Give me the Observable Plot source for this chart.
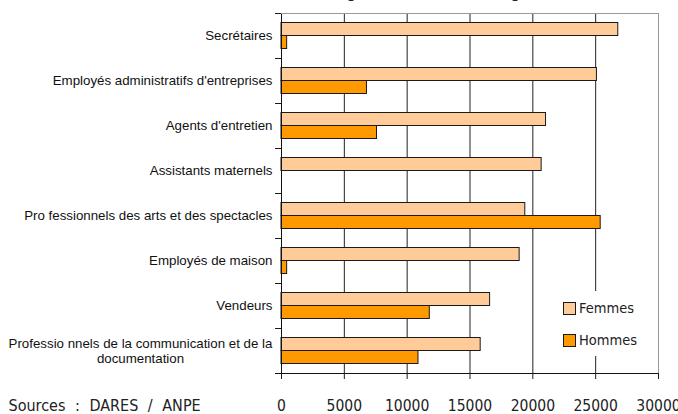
<!DOCTYPE html>
<html><head><meta charset="utf-8">
<script src="https://cdn.jsdelivr.net/npm/d3@7"></script>
<script src="https://cdn.jsdelivr.net/npm/@observablehq/plot@0.6"></script>
<style>
body{margin:0;background:#fff;}
#wrap{position:relative;width:678px;height:414px;overflow:hidden;}
.legend{position:absolute;left:553px;top:291px;width:96px;height:65px;background:#fff;
  font-family:"DejaVu Sans Condensed","DejaVu Sans",sans-serif;font-stretch:condensed;font-size:14.5px;color:#222;}
.sw{position:absolute;left:10px;width:11px;height:11px;border:1px solid #1a1a1a;}
.lt{position:absolute;left:26px;line-height:16px;white-space:nowrap;}
</style></head><body><div id="wrap"></div>
<script>
const categories = [
  "Secrétaires",
  "Employés administratifs d'entreprises",
  "Agents d'entretien",
  "Assistants maternels",
  "Pro fessionnels des arts et des spectacles",
  "Employés de maison",
  "Vendeurs",
  "Professio nnels de la communication et de la documentation"
];
const wrappedLabel = "Professio nnels de la communication et de la\ndocumentation";
const series = ["Femmes", "Hommes"];
const colors = ["#FFCC99", "#FF9900"];
const femmes = [26800, 25100, 21050, 20700, 19400, 18950, 16600, 15850];
const hommes = [450, 6800, 7600, 0, 25400, 450, 11800, 10900];
const xTicks = [0, 5000, 10000, 15000, 20000, 25000, 30000];
const title = "(Les demandes enregistrées, toutes catégories confondues)";
const source = "Sources : DARES / ANPE";

const rowsF = categories.map((c, i) => ({category: c, sexe: series[0], value: femmes[i]}));
const rowsH = categories.map((c, i) => ({category: c, sexe: series[1], value: hommes[i]})).filter(d => d.value > 0);
const lastCat = categories[categories.length - 1];
const condensed = "'DejaVu Sans Condensed', 'DejaVu Sans', sans-serif";

const chart = Plot.plot({
  width: 678,
  height: 414,
  marginLeft: 281,
  marginRight: 20,
  marginTop: 13,
  marginBottom: 41,
  style: {background: "#fff", color: "#1a1a1a", fontStretch: "condensed"},
  x: {domain: [0, 30000], axis: null, label: null},
  y: {domain: categories, padding: 0, axis: null, label: null},
  color: {domain: series, range: colors},
  marks: [
    Plot.ruleX(xTicks.slice(1, -1), {stroke: "#222", strokeWidth: 1}),
    Plot.barX(rowsF, {x: "value", y: "category", fill: "sexe", stroke: "#1a1a1a", strokeWidth: 1, insetTop: 9.5, insetBottom: 22.5}),
    Plot.barX(rowsH, {x: "value", y: "category", fill: "sexe", stroke: "#1a1a1a", strokeWidth: 1, insetTop: 22.5, insetBottom: 9.5}),
    Plot.ruleX([0], {stroke: "#111"}),
    Plot.ruleX([30000], {stroke: "#999"}),
    Plot.frame({anchor: "top", stroke: "#999"}),
    Plot.frame({anchor: "bottom", stroke: "#111", insetLeft: -6}),
    Plot.axisX({ticks: xTicks, tickSize: 6, tickPadding: 20, tickFormat: d => String(d), label: null,
      fontSize: 15.5, fontFamily: condensed, fill: "#222"}),
    Plot.axisY({tickSize: 6, tickFormat: () => "", dy: -22.5, label: null}),
    Plot.axisY({tickSize: 0, tickPadding: 9, tickFormat: d => d === lastCat ? "" : d, label: null,
      fontSize: 13.3, fontFamily: "'Liberation Sans', Arial, sans-serif", fill: "#111", fontStretch: "normal"}),
    Plot.text([lastCat], {y: d => d, text: () => wrappedLabel, frameAnchor: "left", textAnchor: "middle",
      dx: -141, lineHeight: 1.1, fontSize: 13.3, fontFamily: "'Liberation Sans', Arial, sans-serif", fill: "#111", fontStretch: "normal"}),
    Plot.text([title], {frameAnchor: "top-left", textAnchor: "start", lineAnchor: "bottom", dx: -98, dy: -17,
      fontSize: 17.8, fontFamily: condensed, fill: "#222"}),
    Plot.text([source], {frameAnchor: "bottom-left", textAnchor: "start", lineAnchor: "top", dx: -273, dy: 26,
      fontSize: 16, fontFamily: condensed, fill: "#222"})
  ]
});
d3.select(chart).selectAll("text").filter(function() { return this.textContent === source; })
  .style("word-spacing", "5px");
const wrap = document.getElementById("wrap");
wrap.appendChild(chart);
const legend = document.createElement("div");
legend.className = "legend";
series.forEach((s, i) => {
  const sw = document.createElement("div");
  sw.className = "sw";
  sw.style.top = (11 + 32 * i) + "px";
  sw.style.background = colors[i];
  const t = document.createElement("div");
  t.className = "lt";
  t.style.top = (9 + 32 * i) + "px";
  t.textContent = s;
  legend.appendChild(sw);
  legend.appendChild(t);
});
wrap.appendChild(legend);
</script></body></html>
